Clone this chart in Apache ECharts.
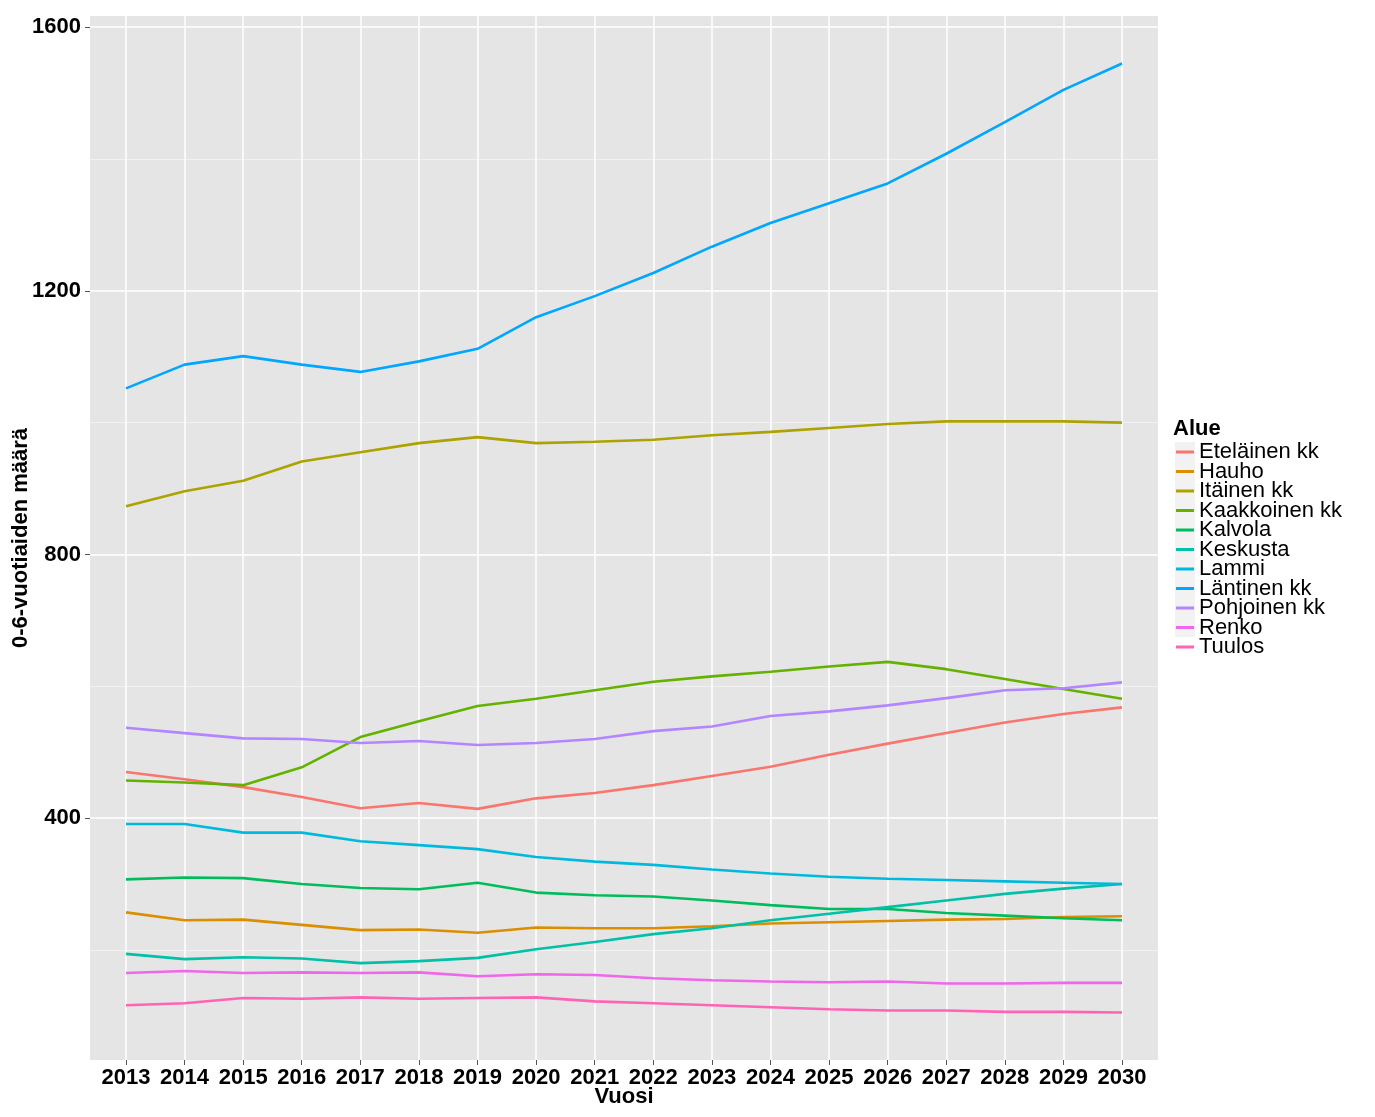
<!DOCTYPE html>
<html>
<head>
<meta charset="utf-8">
<script src="https://cdn.jsdelivr.net/npm/echarts@6.0.0/dist/echarts.min.js"></script>
<style>
html,body{margin:0;padding:0;background:#fff;}
#chart{width:1375px;height:1117px;}
</style>
</head>
<body>
<div id="chart"></div>
<script>
const years = [2013,2014,2015,2016,2017,2018,2019,2020,2021,2022,2023,2024,2025,2026,2027,2028,2029,2030];
const yTicks = [400, 800, 1200, 1600];
const yMinorTicks = [200, 600, 1000, 1400];

const seriesNames = ['Eteläinen kk','Hauho','Itäinen kk','Kaakkoinen kk','Kalvola','Keskusta','Lammi','Läntinen kk','Pohjoinen kk','Renko','Tuulos'];
const seriesColors = ['#F8766D','#DB8E00','#AEA200','#64B200','#00BD5C','#00C1A7','#00BADE','#00A6FF','#B385FF','#EF67EB','#FF63B6'];

const etelainen   = [470, 459, 447, 432, 415, 423, 414, 430, 438, 450, 464, 478, 496, 513, 529, 545, 558, 568];
const hauho       = [257, 245, 246, 238, 230, 231, 226, 234, 233, 233, 236, 240, 242, 244, 246, 247, 250, 251];
const itainen     = [873, 896, 912, 941, 955, 969, 978, 969, 971, 974, 981, 986, 992, 998, 1002, 1002, 1002, 1000];
const kaakkoinen  = [457, 454, 450, 477, 523, 547, 570, 581, 594, 607, 615, 622, 630, 637, 626, 611, 596, 581];
const kalvola     = [307, 310, 309, 300, 294, 292, 302, 287, 283, 281, 275, 268, 262, 262, 256, 252, 248, 245];
const keskusta    = [194, 186, 189, 187, 180, 183, 188, 201, 212, 224, 233, 245, 255, 265, 275, 285, 293, 300];
const lammi       = [391, 391, 378, 378, 365, 359, 353, 341, 334, 329, 322, 316, 311, 308, 306, 304, 302, 300];
const lantinen    = [1052, 1088, 1101, 1088, 1077, 1093, 1112, 1160, 1192, 1227, 1267, 1303, 1333, 1363, 1408, 1456, 1505, 1545];
const pohjoinen   = [537, 529, 521, 520, 514, 517, 511, 514, 520, 532, 539, 555, 562, 571, 582, 594, 597, 606];
const renko       = [165, 168, 165, 166, 165, 166, 160, 163, 162, 157, 154, 152, 151, 152, 149, 149, 150, 150];
const tuulos      = [116, 119, 127, 126, 128, 126, 127, 128, 122, 119, 116, 113, 110, 108, 108, 106, 106, 105];

const seriesValues = [etelainen, hauho, itainen, kaakkoinen, kalvola, keskusta, lammi, lantinen, pohjoinen, renko, tuulos];

const FONT = '"Liberation Sans", Arial, sans-serif';
const chart = echarts.init(document.getElementById('chart'), null, {renderer: 'canvas'});

const series = seriesNames.map((name, i) => ({
  name: name,
  type: 'line',
  xAxisIndex: 0,
  yAxisIndex: 0,
  data: years.map((y, j) => [y, seriesValues[i][j]]),
  showSymbol: false,
  symbol: 'none',
  lineStyle: {width: 2.6, color: seriesColors[i]},
  itemStyle: {color: seriesColors[i]},
  emphasis: {disabled: true},
  animation: false
}));

const option = {
  backgroundColor: '#ffffff',
  animation: false,
  graphic: [{
    type: 'rect',
    left: 1175, top: 442,
    shape: {width: 20, height: 195},
    style: {fill: '#F2F2F2'},
    z: 0, silent: true
  }],
  title: {
    text: 'Alue',
    left: 1173,
    top: 418,
    padding: 0,
    textStyle: {fontFamily: FONT, fontSize: 22, fontWeight: 'bold', color: '#000'}
  },
  legend: {
    orient: 'vertical',
    left: 1176,
    top: 441,
    padding: 0,
    itemGap: -2.5,
    itemWidth: 18,
    itemHeight: 3,
    itemTextGap: 1,
    icon: 'rect',
    data: seriesNames,
    textStyle: {fontFamily: FONT, fontSize: 22, color: '#000'},
    z: 5
  },
  grid: {
    left: 90, top: 16, right: 217, bottom: 57,
    show: true, backgroundColor: '#E5E5E5', borderWidth: 0,
    containLabel: false,
    outerBoundsMode: 'none'
  },
  xAxis: {
    type: 'value',
    min: 2012.386,
    max: 2030.614,
    name: 'Vuosi',
    nameLocation: 'middle',
    nameGap: 26,
    nameMoveOverlap: false,
    nameTextStyle: {fontFamily: FONT, fontSize: 22, fontWeight: 'bold', color: '#000'},
    axisLine: {show: false},
    axisTick: {show: true, length: 5, customValues: years, lineStyle: {color: '#555', width: 1}},
    axisLabel: {
      customValues: years, margin: 7,
      fontFamily: FONT, fontSize: 22, fontWeight: 'bold', color: '#000',
      formatter: v => String(Math.round(v))
    },
    splitLine: {show: true, lineStyle: {color: '#ffffff', width: 1.5}}
  },
  yAxis: [
    {
      type: 'value',
      min: 33,
      max: 1617,
      name: '0-6-vuotiaiden määrä',
      nameLocation: 'middle',
      nameRotate: 90,
      nameGap: 58,
      nameMoveOverlap: false,
      nameTextStyle: {fontFamily: FONT, fontSize: 22, fontWeight: 'bold', color: '#000'},
      axisLine: {show: false},
      axisTick: {show: true, length: 5, customValues: yTicks, lineStyle: {color: '#555', width: 1}},
      axisLabel: {
        customValues: yTicks, margin: 9,
        fontFamily: FONT, fontSize: 22, fontWeight: 'bold', color: '#000',
        formatter: v => String(Math.round(v))
      },
      splitLine: {show: true, lineStyle: {color: '#ffffff', width: 1.5}},
      z: 1
    },
    {
      type: 'value',
      min: 33,
      max: 1617,
      position: 'left',
      axisLine: {show: false},
      axisTick: {show: false, customValues: yMinorTicks},
      axisLabel: {show: false, customValues: yMinorTicks},
      splitLine: {show: true, lineStyle: {color: '#F2F2F2', width: 1}},
      z: 0
    }
  ],
  series: series
};
chart.setOption(option);
</script>
</body>
</html>
